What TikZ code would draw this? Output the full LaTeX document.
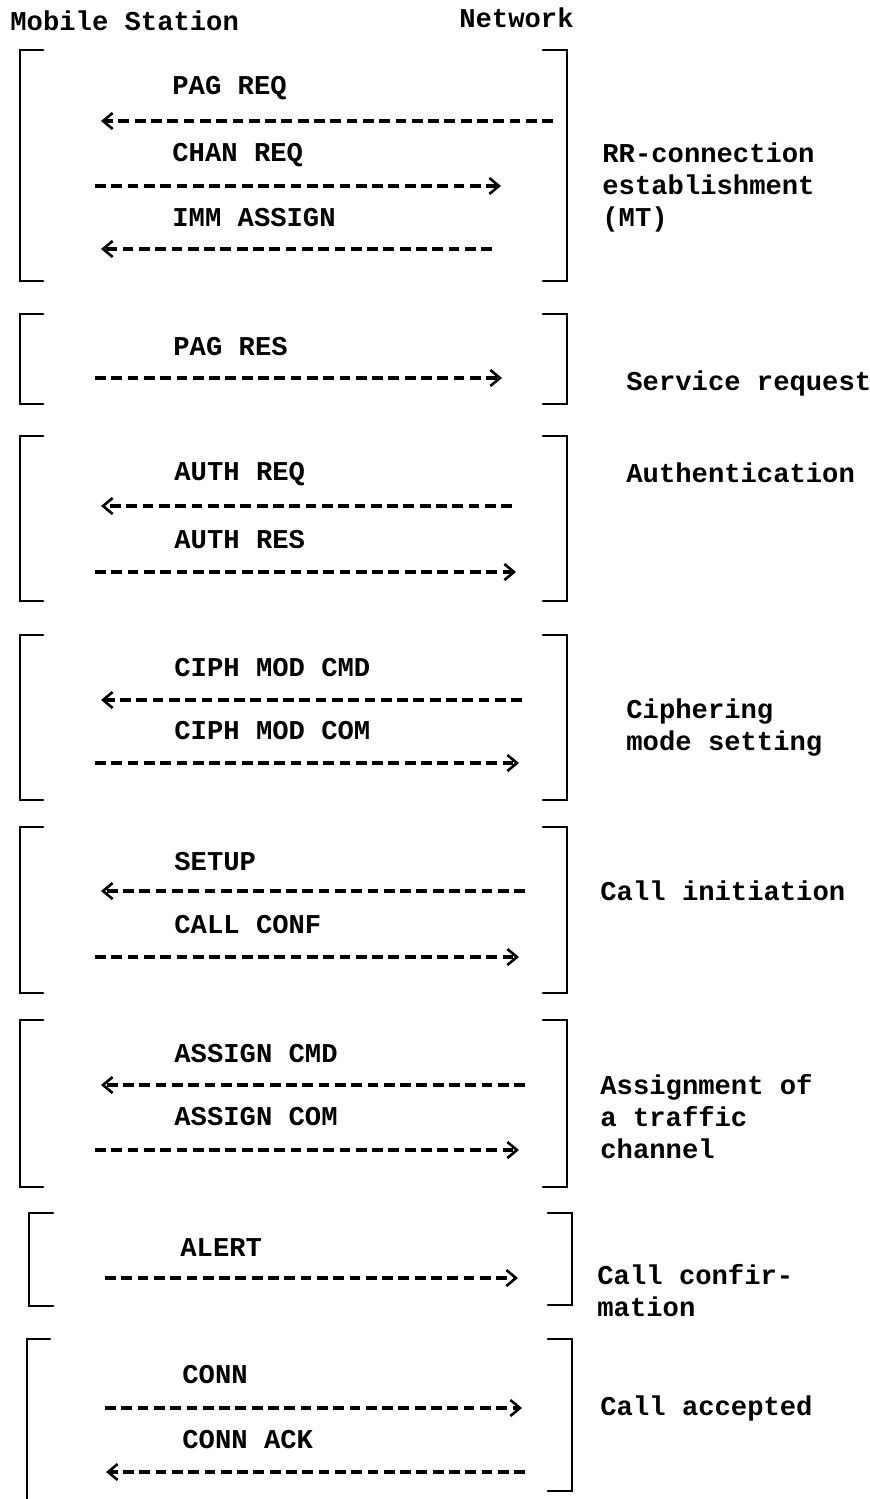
\documentclass[tikz,border=0pt]{standalone}
\usepackage{fontspec}
\setmainfont{Liberation Mono}
\usetikzlibrary{arrows.meta}
\tikzset{
  brk/.style={line width=1.4pt, line cap=round},
  msgline/.style={line width=1.9pt, dash pattern=on 5.4pt off 2.75pt,
    -{Straight Barb[length=4.8pt,width=8pt,line width=1.3pt,sep=3pt]}},
  txt/.style={inner sep=0pt, font=\fontsize{13.6}{16}\selectfont\bfseries},
  msglbl/.style={txt, anchor=west},
  side/.style={txt, anchor=west, align=left},
}
\begin{document}
\begin{tikzpicture}[x=0.5pt, y=-0.5pt]
\useasboundingbox (0,0) rectangle (869,1499);

% headers
\node[txt, anchor=west] (ms) at (10,21) {Mobile Station};
\node[txt, anchor=east] (nw) at (574,18) {Network};

% ---------- Block 1 ----------
\draw[brk] (43,50) -- (20,50) -- (20,281) -- (43,281);
\draw[brk] (543,50) -- (567,50) -- (567,281) -- (543,281);
\node[msglbl] (m1) at (172,88) {PAG  REQ};
\coordinate (a1s) at (553,121); \coordinate (a1e) at (95,121);
\draw[msgline] (a1s) -- (a1e);
\node[msglbl] (m2) at (172,155) {CHAN REQ};
\coordinate (a2s) at (95,186); \coordinate (a2e) at (507,186);
\draw[msgline] (a2s) -- (a2e);
\node[msglbl] (m3) at (172,218) {IMM ASSIGN};
\coordinate (a3s) at (492,249); \coordinate (a3e) at (95,249);
\draw[msgline] (a3s) -- (a3e);
\node[side] (s1) at (602,187) {RR-connection\\establishment\\(MT)};

% ---------- Block 2 ----------
\draw[brk] (43,314) -- (20,314) -- (20,404) -- (43,404);
\draw[brk] (543,314) -- (567,314) -- (567,404) -- (543,404);
\node[msglbl] (m4) at (173,347) {PAG RES};
\coordinate (a4s) at (95,378); \coordinate (a4e) at (508,378);
\draw[msgline] (a4s) -- (a4e);
\node[side] (s2) at (626,383) {Service request};

% ---------- Block 3 ----------
\draw[brk] (43,436) -- (20,436) -- (20,601) -- (43,601);
\draw[brk] (543,436) -- (567,436) -- (567,601) -- (543,601);
\node[msglbl] (m5) at (174,474) {AUTH REQ};
\coordinate (a5s) at (512,506); \coordinate (a5e) at (95,506);
\draw[msgline] (a5s) -- (a5e);
\node[msglbl] (m6) at (174,540) {AUTH RES};
\coordinate (a6s) at (95,572); \coordinate (a6e) at (522,572);
\draw[msgline] (a6s) -- (a6e);
\node[side] (s3) at (626,473) {Authentication};

% ---------- Block 4 ----------
\draw[brk] (43,635) -- (20,635) -- (20,800) -- (43,800);
\draw[brk] (543,635) -- (567,635) -- (567,800) -- (543,800);
\node[msglbl] (m7) at (174,668) {CIPH MOD CMD};
\coordinate (a7s) at (522,700); \coordinate (a7e) at (95,700);
\draw[msgline] (a7s) -- (a7e);
\node[msglbl] (m8) at (174,731) {CIPH MOD COM};
\coordinate (a8s) at (95,763); \coordinate (a8e) at (525,763);
\draw[msgline] (a8s) -- (a8e);
\node[side] (s4) at (626,728) {Ciphering\\mode setting};

% ---------- Block 5 ----------
\draw[brk] (43,827) -- (20,827) -- (20,993) -- (43,993);
\draw[brk] (543,827) -- (567,827) -- (567,993) -- (543,993);
\node[msglbl] (m9) at (174,862) {SETUP};
\coordinate (a9s) at (525,891); \coordinate (a9e) at (95,891);
\draw[msgline] (a9s) -- (a9e);
\node[msglbl] (m10) at (174,925) {CALL CONF};
\coordinate (a10s) at (95,957); \coordinate (a10e) at (525,957);
\draw[msgline] (a10s) -- (a10e);
\node[side] (s5) at (600,891) {Call initiation};

% ---------- Block 6 ----------
\draw[brk] (43,1020) -- (20,1020) -- (20,1187) -- (43,1187);
\draw[brk] (543,1020) -- (567,1020) -- (567,1187) -- (543,1187);
\node[msglbl] (m11) at (174,1054) {ASSIGN CMD};
\coordinate (a11s) at (525,1085); \coordinate (a11e) at (95,1085);
\draw[msgline] (a11s) -- (a11e);
\node[msglbl] (m12) at (174,1117) {ASSIGN COM};
\coordinate (a12s) at (95,1150); \coordinate (a12e) at (525,1150);
\draw[msgline] (a12s) -- (a12e);
\node[side] (s6) at (600,1117) {Assignment of\\a traffic\\channel};

% ---------- Block 7 ----------
\draw[brk] (53,1213) -- (29,1213) -- (29,1306) -- (53,1306);
\draw[brk] (548,1213) -- (572,1213) -- (572,1305) -- (548,1305);
\node[msglbl] (m13) at (180,1248) {ALERT};
\coordinate (a13s) at (105,1278); \coordinate (a13e) at (524,1278);
\draw[msgline] (a13s) -- (a13e);
\node[side] (s7) at (597,1291) {Call confir-\\mation};

% ---------- Block 8 ----------
\draw[brk] (50,1339) -- (27,1339) -- (27,1499);
\draw[brk] (548,1339) -- (572,1339) -- (572,1491) -- (548,1491);
\node[msglbl] (m14) at (182,1375) {CONN};
\coordinate (a14s) at (105,1408); \coordinate (a14e) at (528,1408);
\draw[msgline] (a14s) -- (a14e);
\node[msglbl] (m15) at (182,1440) {CONN ACK};
\coordinate (a15s) at (525,1472); \coordinate (a15e) at (100,1472);
\draw[msgline] (a15s) -- (a15e);
\node[side] (s8) at (600,1408) {Call accepted};
\end{tikzpicture}
\end{document}
